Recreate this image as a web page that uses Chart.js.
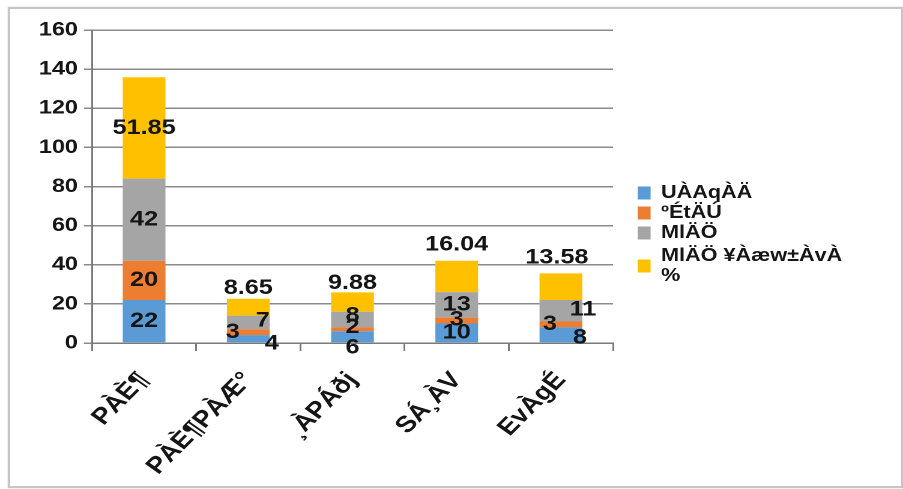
<!DOCTYPE html>
<html>
<head>
<meta charset="utf-8">
<script src="https://cdn.jsdelivr.net/npm/chart.js@4/dist/chart.umd.min.js"></script>
<style>
  html, body { margin: 0; padding: 0; background: #fff; width: 903px; height: 489px; overflow: hidden; }
  #frame { position: absolute; left: 8px; top: 7px; width: 891px; height: 477px;
           border: 2px solid #c6c6c6; box-shadow: 0 0 2px rgba(0,0,0,0.18); }
  #wrap { position: absolute; left: 0; top: 0; width: 752px; height: 489px;
          transform-origin: 0 0; transform: scaleX(1.2008); }
</style>
</head>
<body>
<div id="frame"></div>
<div id="wrap"><canvas id="c" width="752" height="489"></canvas></div>
<script>
// Occupation groups (Kannada, Nudi encoding)
const categories = ['PÀÈ¶', 'PÀÈ¶PÀÆ°', '¸ÀPÁðj', 'SÁ¸ÀV', 'EvÀgÉ'];

// Series values
const male = [22, 4, 6, 10, 8];
const female = [20, 3, 2, 3, 3];
const total = [42, 7, 8, 13, 11];
const totalPercent = [51.85, 8.65, 9.88, 16.04, 13.58];

// Legend entries (last one wraps onto two lines)
const seriesNames = ['UÀAqÀÄ', 'ºÉtÄÚ', 'MlÄÖ', ['MlÄÖ ¥Àæw±ÀvÀ', '%']];

// Value axis
const yMin = 0, yMax = 160, yStep = 20;

const colors = ['#5B9BD5', '#ED7D31', '#A5A5A5', '#FFC000'];
const FONT = '"Liberation Sans", Arial, sans-serif';
const SX = 903 / 752; // horizontal stretch applied to the canvas

// Label nudges in screen pixels [dx, dy] from each segment's centre
const labelNudge = [
  [[0, 0], [23.5, 5], [0, 11], [0, 0], [19, 3]],
  [[0, 0], [-15.5, 0], [0, -2], [0, -1], [-11, 0]],
  [[0, 0], [14.5, -2], [0, -4], [0, 0], [22, -1]],
  [[0, 0], [0, -19], [0, -19], [0, -31.5], [-4, -29]]
];

const valueLabels = {
  id: 'valueLabels',
  afterDatasetsDraw(chart) {
    const ctx = chart.ctx;
    ctx.save();
    ctx.font = 'bold 21px ' + FONT;
    ctx.fillStyle = '#151515';
    ctx.textAlign = 'center';
    ctx.textBaseline = 'middle';
    chart.data.datasets.forEach((ds, di) => {
      const meta = chart.getDatasetMeta(di);
      meta.data.forEach((bar, i) => {
        const n = labelNudge[di][i];
        const cx = bar.x + n[0] / SX;
        const cy = (bar.y + bar.base) / 2 + n[1];
        ctx.fillText(String(ds.data[i]), cx, cy);
      });
    });
    ctx.restore();
  }
};

const sideLegend = {
  id: 'sideLegend',
  afterDraw(chart) {
    const ctx = chart.ctx;
    ctx.save();
    ctx.font = 'bold 18px ' + FONT;
    ctx.textAlign = 'left';
    ctx.textBaseline = 'middle';
    const boxX = 531, textX = 550.5, lineH = 20;
    let y = 193;
    chart.data.datasets.forEach((ds, di) => {
      const name = seriesNames[di];
      const lines = Array.isArray(name) ? name : [name];
      const mid = y + (lines.length - 1) * lineH / 2;
      ctx.fillStyle = ds.backgroundColor;
      ctx.fillRect(boxX, mid - 6.5, 10.8, 13);
      ctx.fillStyle = '#151515';
      lines.forEach((t, k) => ctx.fillText(t, textX, y + k * lineH));
      y += lines.length * lineH + (di === 2 ? 3 : 0);
    });
    ctx.restore();
  }
};

new Chart(document.getElementById('c'), {
  type: 'bar',
  data: {
    labels: categories,
    datasets: [
      { label: seriesNames[0], data: male, backgroundColor: colors[0] },
      { label: seriesNames[1], data: female, backgroundColor: colors[1] },
      { label: seriesNames[2], data: total, backgroundColor: colors[2] },
      { label: seriesNames[3].join(' '), data: totalPercent, backgroundColor: colors[3] }
    ]
  },
  options: {
    responsive: false,
    animation: false,
    devicePixelRatio: 2,
    layout: { padding: { top: 30, right: 241.5, bottom: 0, left: 0 } },
    datasets: { bar: { categoryPercentage: 1, barPercentage: 0.41 } },
    plugins: { legend: { display: false }, tooltip: { enabled: false } },
    scales: {
      x: {
        stacked: true,
        grid: { drawOnChartArea: false, tickLength: 8, color: '#7a7a7a', lineWidth: 1.5 },
        border: { color: '#7a7a7a', width: 1.5 },
        ticks: {
          minRotation: 50, maxRotation: 50, padding: 16, color: '#151515',
          font: { family: FONT, size: 23, weight: 'bold' }
        },
        afterFit(s) { s.height = 146; }
      },
      y: {
        stacked: true,
        min: yMin, max: yMax,
        ticks: { stepSize: yStep, padding: 5, color: '#151515',
                 font: { family: FONT, size: 19.5, weight: 'bold' } },
        grid: { color: '#8a8a8a', lineWidth: 1.5, tickLength: 6.7 },
        border: { color: '#7a7a7a', width: 1.5 },
        afterFit(s) { s.width = 76.6; }
      }
    }
  },
  plugins: [valueLabels, sideLegend]
});
</script>
</body>
</html>
